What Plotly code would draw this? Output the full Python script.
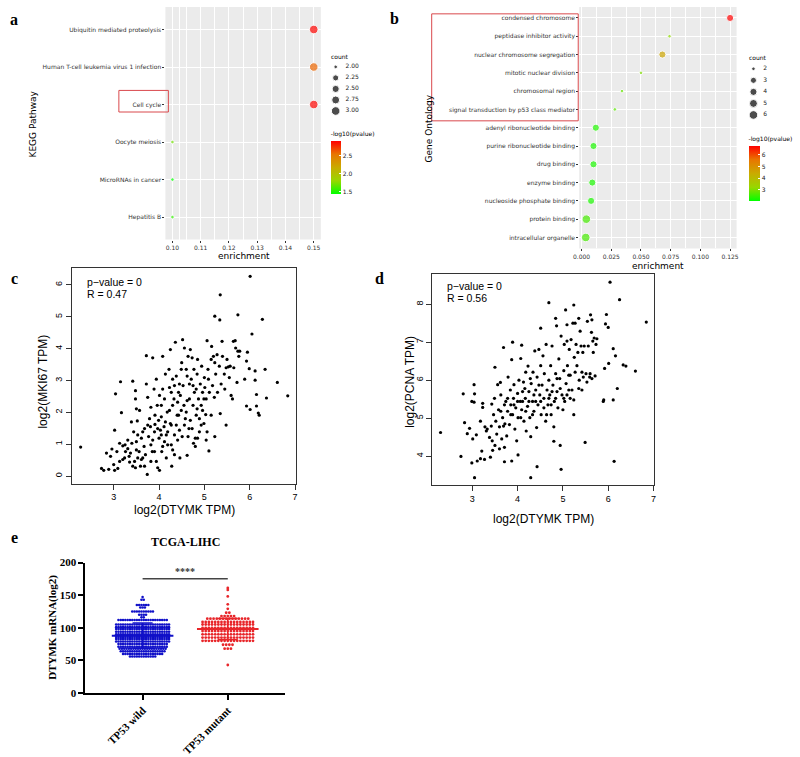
import numpy as np
import plotly.graph_objects as go

W, H = 800, 757

# ---------------- data ----------------
kegg_terms = ["Ubiquitin mediated proteolysis", "Human T-cell leukemia virus 1 infection",
              "Cell cycle", "Oocyte meiosis", "MicroRNAs in cancer", "Hepatitis B"]
kegg_enrichment = [0.15, 0.15, 0.15, 0.10, 0.10, 0.10]
kegg_count = [3, 3, 3, 2, 2, 2]
kegg_logp = [2.88, 2.58, 2.88, 1.70, 1.43, 1.55]
kegg_count_breaks = [2.00, 2.25, 2.50, 2.75, 3.00]
kegg_logp_ticks = [1.5, 2.0, 2.5]

go_terms = ["condensed chromosome", "peptidase inhibitor activity", "nuclear chromosome segregation",
            "mitotic nuclear division", "chromosomal region", "signal transduction by p53 class mediator",
            "adenyl ribonucleotide binding", "purine ribonucleotide binding", "drug binding",
            "enzyme binding", "nucleoside phosphate binding", "protein binding", "intracellular organelle"]
go_enrichment = [0.125, 0.074, 0.068, 0.050, 0.034, 0.028, 0.012, 0.010, 0.010, 0.009, 0.008, 0.004, 0.0035]
go_count = [4, 2, 4, 2, 2, 2, 4, 4, 4, 4, 4, 6, 6]
go_logp = [6.75, 3.1, 4.5, 3.0, 2.8, 2.7, 2.25, 2.2, 2.2, 2.2, 2.2, 2.55, 2.55]
go_count_breaks = [2, 3, 4, 5, 6]
go_logp_ticks = [3, 4, 5, 6]

# panel c: DTYMK vs MKI67 (log2 TPM)
c_x = [2.27, 6.01, 5.35, 5.23, 5.34, 5.74, 6.28, 6.05, 6.61, 6.84,
       6.37, 6.34, 6.12, 6.12, 6.15, 6.01, 5.93, 6.15, 6.19, 6.21,
       5.89, 5.93, 5.95, 5.99, 5.48, 5.10, 5.23, 5.04, 5.06, 5.15,
       5.03, 2.73, 2.78, 2.84, 2.89, 2.93, 2.96, 3.00, 3.02, 3.02,
       3.04, 3.09, 3.13, 3.07, 3.17, 3.15, 3.20, 3.24, 3.26, 3.31,
       3.34, 3.37, 3.40, 3.42, 3.46, 3.42, 3.48, 3.48, 3.50, 3.52,
       3.53, 3.50, 3.56, 3.53, 3.59, 3.61, 3.57, 3.64, 3.67, 3.70,
       3.72, 3.72, 3.74, 3.75, 3.77, 3.79, 3.82, 3.86, 3.85, 3.89,
       3.90, 3.91, 3.94, 3.94, 3.96, 3.97, 4.00, 4.01, 4.03, 4.05,
       4.06, 4.08, 4.08, 4.11, 4.12, 4.14, 4.16, 4.18, 4.19, 4.22,
       4.23, 4.25, 4.25, 4.27, 4.28, 4.30, 4.33, 4.34, 4.36, 4.38,
       4.40, 4.41, 4.43, 4.45, 4.46, 4.49, 4.50, 4.52, 4.53, 4.56,
       4.58, 4.60, 4.62, 4.62, 4.64, 4.66, 4.69, 4.71, 4.73, 4.75,
       4.76, 4.78, 4.80, 4.82, 4.84, 4.85, 4.87, 4.89, 4.91, 4.93,
       4.94, 4.96, 4.99, 5.00, 5.01, 5.04, 5.06, 5.08, 5.09, 5.11,
       5.15, 5.16, 5.18, 5.20, 5.22, 5.23, 5.25, 5.28, 5.29, 5.33,
       5.35, 5.37, 5.39, 5.40, 5.44, 5.45, 5.48, 5.50, 5.53, 5.55,
       5.57, 5.59, 5.62, 5.64, 5.65, 5.68, 5.69, 5.72, 5.74, 5.76,
       5.78, 3.61, 3.68, 3.81, 3.86, 3.91, 3.97, 3.99, 4.05, 4.08,
       4.14, 4.16, 4.19, 4.23, 4.27, 4.30, 4.34, 4.38, 4.41, 4.43,
       4.47, 4.51, 4.55, 4.56, 4.60, 4.64, 4.67, 4.69, 4.73, 4.75,
       4.80, 4.84, 4.85, 4.89, 4.93, 4.96, 3.75, 3.82, 4.01, 4.05,
       4.12, 4.27, 4.30, 4.34, 4.45, 4.49, 4.62, 4.67, 4.77, 4.82,
       4.99, 3.39, 3.44, 3.31, 3.25, 3.35, 3.48, 3.64, 3.68, 3.82,
       3.90, 3.50, 3.20, 3.13]
c_y = [0.91, 6.27, 5.69, 5.02, 4.90, 5.06, 4.92, 4.46, 2.94, 2.52,
       2.45, 3.35, 3.30, 3.01, 2.56, 2.09, 2.20, 2.20, 1.98, 1.91,
       3.04, 3.61, 3.89, 3.37, 1.60, 0.79, 1.24, 1.13, 1.39, 1.91,
       1.93, 0.24, 0.18, 0.72, 0.21, 0.62, 0.85, 0.36, 0.18, 1.44,
       2.58, 0.24, 0.46, 0.77, 1.99, 2.96, 0.95, 0.57, 0.77, 0.86,
       0.62, 0.72, 1.03, 0.31, 0.46, 2.98, 2.68, 2.42, 2.11, 1.73,
       1.29, 1.08, 0.77, 0.57, 0.31, 0.52, 2.06, 1.39, 0.93, 0.67,
       3.78, 2.89, 0.05, 1.60, 1.24, 1.80, 0.98, 3.71, 0.77, 2.73,
       1.39, 1.62, 3.04, 0.46, 2.22, 0.26, 1.19, 0.18, 1.44, 1.86,
       0.77, 3.76, 2.73, 1.55, 1.08, 3.20, 0.57, 2.01, 1.39, 3.35,
       2.78, 1.65, 3.97, 0.98, 0.31, 2.22, 2.42, 0.67, 4.20, 3.14,
       1.91, 1.13, 2.63, 1.44, 0.57, 2.06, 3.56, 4.28, 2.84, 4.02,
       1.80, 3.35, 2.37, 0.65, 3.76, 1.49, 3.97, 3.04, 3.71, 2.22,
       1.03, 2.63, 0.93, 1.91, 3.20, 3.66, 2.42, 1.39, 2.89, 2.22,
       3.45, 2.63, 1.65, 3.09, 2.78, 2.42, 4.25, 3.35, 3.04, 2.63,
       3.66, 4.07, 2.84, 3.76, 2.47, 3.56, 3.20, 3.81, 2.63, 3.45,
       1.96, 2.89, 4.23, 3.76, 3.20, 2.73, 3.40, 3.66, 3.43, 3.09,
       3.45, 2.53, 2.42, 4.23, 3.40, 4.25, 4.02, 2.94, 3.92, 3.76,
       3.92, 1.19, 1.49, 1.55, 1.13, 1.91, 1.49, 1.75, 1.29, 0.93,
       1.70, 1.29, 0.98, 2.06, 1.60, 0.82, 1.29, 1.60, 2.32, 1.91,
       2.53, 1.24, 2.22, 1.60, 2.01, 1.24, 2.42, 1.75, 1.49, 2.84,
       1.19, 2.11, 1.19, 1.80, 1.60, 2.06, 2.47, 2.16, 2.53, 2.22,
       2.42, 2.63, 3.04, 2.84, 2.89, 3.35, 3.14, 2.89, 3.35, 2.73,
       2.42, 1.70, 1.39, 1.13, 0.98, 0.44, 0.26, 0.57, 0.31, 0.46,
       0.77, 0.82, 0.52, 1.03]

# panel d: DTYMK vs PCNA (log2 TPM)
d_x = [2.30, 2.80, 2.75, 2.83, 2.89, 2.94, 2.99, 2.99, 3.04, 3.01,
       3.05, 3.04, 3.05, 3.09, 3.11, 3.18, 3.18, 3.21, 3.23, 3.23,
       3.27, 3.28, 3.31, 3.33, 3.38, 3.40, 3.42, 3.43, 3.44, 3.45,
       3.47, 3.49, 3.50, 3.50, 3.52, 3.54, 3.56, 3.58, 3.60, 3.60,
       3.62, 3.63, 3.65, 3.67, 3.69, 3.69, 3.71, 3.71, 3.72, 3.74,
       3.76, 3.78, 3.79, 3.82, 3.84, 3.85, 3.87, 3.87, 3.89, 3.89,
       3.91, 3.92, 3.94, 3.96, 3.98, 4.00, 4.01, 4.01, 4.03, 4.06,
       4.07, 4.09, 4.09, 4.11, 4.13, 4.14, 4.17, 4.18, 4.19, 4.22,
       4.23, 4.25, 4.27, 4.29, 4.29, 4.30, 4.33, 4.34, 4.36, 4.38,
       4.40, 4.42, 4.43, 4.43, 4.45, 4.47, 4.49, 4.51, 4.51, 4.52,
       4.54, 4.56, 4.58, 4.59, 4.62, 4.63, 4.65, 4.67, 4.69, 4.69,
       4.71, 4.73, 4.74, 4.76, 4.78, 4.80, 4.80, 4.81, 4.84, 4.84,
       4.86, 4.87, 4.89, 4.91, 4.93, 4.94, 4.96, 4.96, 4.98, 5.00,
       5.02, 5.03, 5.04, 5.06, 5.07, 5.09, 5.09, 5.10, 5.13, 5.14,
       5.16, 5.18, 5.20, 5.22, 5.24, 5.24, 5.24, 5.25, 5.27, 5.29,
       5.31, 5.33, 5.35, 5.36, 5.38, 5.40, 5.42, 5.44, 5.45, 5.47,
       5.49, 5.51, 5.54, 5.56, 5.59, 5.60, 5.61, 5.63, 5.64, 5.66,
       5.67, 5.69, 5.71, 5.73, 5.75, 5.89, 5.90, 5.94, 5.92, 5.96,
       6.00, 6.01, 6.04, 6.11, 6.13, 6.11, 6.16, 6.20, 6.25, 6.33,
       6.39, 6.60, 6.84, 3.63, 3.85, 4.00, 4.07, 4.18, 4.25, 4.33,
       4.40, 4.47, 4.58, 4.69, 4.76, 4.87, 4.94, 5.09, 5.13, 5.27,
       5.35, 5.42, 5.53, 5.64, 3.92, 3.78, 3.71, 4.11, 4.16, 4.28,
       4.36, 4.51, 4.64, 4.74, 4.84, 5.02, 5.16]
d_y = [4.62, 5.64, 3.99, 4.88, 4.59, 4.73, 3.82, 5.44, 5.88, 4.45,
       5.64, 5.42, 3.43, 4.56, 3.87, 4.92, 3.93, 4.13, 5.39, 5.28,
       3.91, 4.77, 4.66, 4.71, 4.49, 3.97, 4.79, 5.37, 4.40, 4.15,
       5.09, 5.52, 6.34, 4.28, 4.92, 4.58, 5.88, 5.22, 4.19, 4.77,
       5.94, 5.61, 4.45, 5.01, 6.86, 4.79, 4.23, 3.85, 4.85, 5.44,
       4.53, 5.18, 6.08, 4.83, 5.74, 5.35, 6.54, 3.87, 7.00, 5.09,
       5.52, 5.88, 4.71, 5.27, 4.40, 5.65, 4.03, 5.01, 6.00, 5.44,
       6.57, 6.92, 5.22, 5.70, 5.95, 4.92, 5.52, 6.21, 4.66, 5.31,
       6.37, 5.70, 5.01, 4.51, 3.43, 5.91, 5.44, 6.21, 5.18, 6.77,
       5.74, 4.75, 3.72, 6.08, 5.35, 6.81, 5.61, 6.38, 7.37, 5.09,
       5.87, 6.64, 5.52, 6.17, 4.92, 6.94, 5.74, 5.35, 8.04, 6.00,
       5.61, 6.38, 5.09, 6.90, 5.87, 4.77, 4.39, 5.44, 7.63, 6.17,
       7.43, 5.70, 5.27, 6.56, 6.04, 4.28, 3.65, 7.16, 5.61, 5.22,
       6.25, 6.94, 5.44, 7.85, 5.91, 7.46, 7.03, 6.38, 5.74, 6.81,
       6.13, 7.07, 5.74, 7.50, 7.98, 5.09, 5.48, 6.60, 7.50, 6.94,
       6.38, 6.73, 7.63, 6.00, 7.29, 6.90, 5.74, 6.73, 6.08, 6.90,
       4.36, 6.17, 7.55, 6.90, 6.08, 6.17, 7.72, 7.26, 7.59, 7.03,
       6.73, 7.11, 6.11, 6.94, 7.09, 5.44, 5.48, 7.48, 6.31, 7.73,
       7.39, 6.44, 8.58, 6.83, 3.86, 5.48, 6.64, 5.78, 8.12, 6.40,
       6.37, 6.24, 7.53, 5.18, 5.09, 5.44, 5.01, 5.18, 5.44, 5.09,
       5.44, 5.87, 5.27, 5.52, 5.70, 6.04, 5.78, 5.61, 6.13, 6.21,
       5.78, 6.21, 5.95, 6.04, 5.35, 5.52, 5.35, 5.44, 5.78, 6.04,
       5.61, 5.44, 5.09, 5.35, 5.52, 5.52, 5.52]

# panel e: DTYMK mRNA(log2), beeswarm rows (value level, number of samples)
e_groups = ["TP53 wild", "TP53 mutant"]
wild_levels = [147, 143, 135, 131, 125, 120, 116, 112, 105, 101, 98, 94, 90, 86, 83, 79, 75, 71, 68, 64, 60, 56]
wild_counts = [1, 2, 6, 3, 10, 4, 2, 22, 24, 24, 24, 24, 24, 24, 24, 24, 22, 22, 21, 20, 18, 12]
mut_levels = [161, 158, 148, 136, 129, 123, 118, 114, 109, 105, 100, 95, 90, 85, 80, 74, 68, 43]
mut_counts = [1, 1, 1, 1, 1, 2, 5, 14, 17, 17, 17, 17, 17, 17, 17, 4, 3, 1]
e_yticks = [0, 50, 100, 150, 200]

# ---------------- helpers ----------------
def dom_x(l, r):
    return [l / W, r / W]

def dom_y(t, b):
    return [1 - b / H, 1 - t / H]

def dot_size(counts, lo, hi):
    t = (np.asarray(counts, float) - lo) / (hi - lo)
    return 3.6 + 5.0 * np.sqrt(t)

def swarm(levels, counts, center, step):
    xs, ys = [], []
    for v, n in zip(levels, counts):
        offs = (np.arange(n) - (n - 1) / 2) * step
        xs.extend(center + offs)
        ys.extend([v] * n)
    return xs, ys

GG = "DejaVu Sans"
RF = "Liberation Sans"
SERIF = "Liberation Serif"
cscale = [[0, "#00FF00"], [0.25, "#98D700"], [0.5, "#C9AB00"], [0.75, "#E87600"], [1, "#FF0000"]]

fig = go.Figure()

# ---- panel a ----
fig.add_trace(go.Scatter(x=kegg_enrichment, y=kegg_terms, mode="markers", xaxis="x", yaxis="y",
                         marker=dict(size=dot_size(kegg_count, 2, 3), color=kegg_logp, coloraxis="coloraxis")))
fig.add_trace(go.Scatter(x=[0.5] * len(kegg_count_breaks), y=[f"{b:.2f}" for b in kegg_count_breaks],
                         mode="markers", xaxis="x6", yaxis="y6",
                         marker=dict(size=dot_size(kegg_count_breaks, 2, 3), color="black")))
fig.add_trace(go.Scatter(x=[1.0] * len(kegg_count_breaks), y=[f"{b:.2f}" for b in kegg_count_breaks],
                         mode="text", text=[f"{b:.2f}" for b in kegg_count_breaks], textposition="middle right",
                         textfont=dict(size=6, family=GG, color="#222"), xaxis="x6", yaxis="y6", cliponaxis=False))

# ---- panel b ----
fig.add_trace(go.Scatter(x=go_enrichment, y=go_terms, mode="markers", xaxis="x2", yaxis="y2",
                         marker=dict(size=dot_size(go_count, 2, 6), color=go_logp, coloraxis="coloraxis2")))
fig.add_trace(go.Scatter(x=[0.5] * len(go_count_breaks), y=[str(b) for b in go_count_breaks],
                         mode="markers", xaxis="x7", yaxis="y7",
                         marker=dict(size=dot_size(go_count_breaks, 2, 6), color="black")))
fig.add_trace(go.Scatter(x=[1.0] * len(go_count_breaks), y=[str(b) for b in go_count_breaks],
                         mode="text", text=[str(b) for b in go_count_breaks], textposition="middle right",
                         textfont=dict(size=6, family=GG, color="#222"), xaxis="x7", yaxis="y7", cliponaxis=False))

# ---- panel c, d ----
fig.add_trace(go.Scatter(x=c_x, y=c_y, mode="markers", xaxis="x3", yaxis="y3",
                         marker=dict(size=3.2, color="black")))
fig.add_trace(go.Scatter(x=d_x, y=d_y, mode="markers", xaxis="x4", yaxis="y4",
                         marker=dict(size=3.2, color="black")))

# ---- panel e ----
BLUE, RED = "#1010C8", "#E8262A"
wx, wy = swarm(wild_levels, wild_counts, 0, 0.027)
mx, my = swarm(mut_levels, mut_counts, 1, 0.037)
fig.add_trace(go.Scatter(x=wx, y=wy, mode="markers", xaxis="x5", yaxis="y5",
                         marker=dict(size=2.6, color=BLUE)))
fig.add_trace(go.Scatter(x=mx, y=my, mode="markers", xaxis="x5", yaxis="y5",
                         marker=dict(size=2.8, color=RED)))
wild_vals = np.repeat(wild_levels, wild_counts)
mut_vals = np.repeat(mut_levels, mut_counts)
for ci, vals, col in [(0, wild_vals, BLUE), (1, mut_vals, RED)]:
    fig.add_trace(go.Scatter(x=[ci], y=[vals.mean()], mode="markers", xaxis="x5", yaxis="y5",
                             marker=dict(symbol="line-ew", size=44, line=dict(width=2, color=col)),
                             error_y=dict(type="data", array=[vals.std()], color=col, thickness=1.5, width=10)))
sig_y = max(wild_vals.max(), mut_vals.max()) + 14

# ---------------- layout ----------------
gg_tick = dict(family=GG, size=6, color="#333")
r_tick = dict(family=RF, size=9, color="black")
e_tick = dict(family=SERIF, size=11, color="black")

layout = dict(
    width=W, height=H, margin=dict(l=0, r=0, t=0, b=0),
    paper_bgcolor="white", plot_bgcolor="white", showlegend=False,
    xaxis=dict(domain=dom_x(161, 318), anchor="y", range=[0.0975, 0.1525],
               tickvals=[0.10, 0.11, 0.12, 0.13, 0.14, 0.15], tickformat=".2f",
               showgrid=True, gridcolor="white", gridwidth=1, zeroline=False,
               ticks="outside", ticklen=2, tickcolor="#333", tickfont=gg_tick,
               minor=dict(tickvals=[0.1025, 0.105, 0.115, 0.125, 0.135, 0.145, 0.1525],
                          showgrid=True, gridcolor="white", gridwidth=0.5, ticks="")),
    yaxis=dict(domain=dom_y(1, 238), anchor="x", type="category", categoryarray=kegg_terms,
               range=[len(kegg_terms) - 0.4, -0.6],
               showgrid=True, gridcolor="white", gridwidth=1, zeroline=False,
               ticks="outside", ticklen=2, tickcolor="#333", tickfont=gg_tick),
    xaxis2=dict(domain=dom_x(579, 738), anchor="y2", range=[-0.002, 0.1305],
                tickvals=[0, 0.025, 0.05, 0.075, 0.1, 0.125], tickformat=".3f",
                showgrid=True, gridcolor="white", gridwidth=1, zeroline=False,
                ticks="outside", ticklen=2, tickcolor="#333", tickfont=gg_tick,
                minor=dict(tickvals=[0.0125, 0.0375, 0.0625, 0.0875, 0.1125],
                           showgrid=True, gridcolor="white", gridwidth=0.5, ticks="")),
    yaxis2=dict(domain=dom_y(1, 247), anchor="x2", type="category", categoryarray=go_terms,
                range=[len(go_terms) - 0.4, -0.6],
                showgrid=True, gridcolor="white", gridwidth=1, zeroline=False,
                ticks="outside", ticklen=2, tickcolor="#333", tickfont=gg_tick),
    xaxis3=dict(domain=dom_x(66.7, 293.3), anchor="y3", range=[2.08, 7.03], dtick=1,
                showgrid=False, zeroline=False, showline=True, mirror=True, linecolor="#333", linewidth=1,
                ticks="outside", ticklen=5, tickcolor="#333", tickfont=r_tick),
    yaxis3=dict(domain=dom_y(267.3, 486.7), anchor="x3", range=[-0.24, 6.52], dtick=1,
                showgrid=False, zeroline=False, showline=True, mirror=True, linecolor="#333", linewidth=1,
                ticks="outside", ticklen=5, tickcolor="#333", tickfont=r_tick, tickangle=-90),
    xaxis4=dict(domain=dom_x(430.7, 655), anchor="y4", range=[2.12, 7.02], dtick=1,
                showgrid=False, zeroline=False, showline=True, mirror=True, linecolor="#333", linewidth=1,
                ticks="outside", ticklen=5, tickcolor="#333", tickfont=r_tick),
    yaxis4=dict(domain=dom_y(273.3, 488.3), anchor="x4", range=[3.23, 8.79], dtick=1,
                showgrid=False, zeroline=False, showline=True, mirror=True, linecolor="#333", linewidth=1,
                ticks="outside", ticklen=5, tickcolor="#333", tickfont=r_tick, tickangle=-90),
    xaxis5=dict(domain=dom_x(80, 282), anchor="y5", range=[-0.674, 1.674],
                tickvals=[0, 1], ticktext=[f"<b>{g}</b>" for g in e_groups], tickangle=-45,
                showgrid=False, zeroline=False, showline=True, linecolor="black", linewidth=1.5,
                ticks="outside", ticklen=5, tickwidth=1.5, tickcolor="black", tickfont=e_tick),
    yaxis5=dict(domain=dom_y(567, 700), anchor="x5", range=[0, 200],
                tickvals=e_yticks, ticktext=[f"<b>{v}</b>" for v in e_yticks],
                showgrid=False, zeroline=False, showline=True, linecolor="black", linewidth=1.5,
                ticks="outside", ticklen=5, tickwidth=1.5, tickcolor="black", tickfont=e_tick),
    xaxis6=dict(domain=dom_x(323, 343), anchor="y6", range=[0, 1], visible=False),
    yaxis6=dict(domain=dom_y(56.4, 112.6), anchor="x6", type="category",
                categoryarray=[f"{b:.2f}" for b in kegg_count_breaks],
                range=[len(kegg_count_breaks) - 0.5, -0.5], visible=False),
    xaxis7=dict(domain=dom_x(745, 765), anchor="y7", range=[0, 1], visible=False),
    yaxis7=dict(domain=dom_y(58.1, 116.9), anchor="x7", type="category",
                categoryarray=[str(b) for b in go_count_breaks],
                range=[len(go_count_breaks) - 0.5, -0.5], visible=False),
    coloraxis=dict(cmin=1.43, cmax=2.89, colorscale=cscale,
                   colorbar=dict(x=328 / W, xanchor="left", y=1 - 192 / H, yanchor="bottom",
                                 len=66, lenmode="pixels", thickness=10, thicknessmode="pixels",
                                 xpad=0, ypad=0, outlinewidth=0, ticks="inside", ticklen=2,
                                 tickcolor="white", tickvals=kegg_logp_ticks,
                                 ticktext=[f"{v:.1f}" for v in kegg_logp_ticks],
                                 tickfont=dict(family=GG, size=6, color="#222"),
                                 title=dict(text="-log10(pvalue)", side="top",
                                            font=dict(family=GG, size=6, color="black")))),
    coloraxis2=dict(cmin=2.0, cmax=6.75, colorscale=cscale,
                    colorbar=dict(x=750 / W, xanchor="left", y=1 - 199 / H, yanchor="bottom",
                                  len=68, lenmode="pixels", thickness=11, thicknessmode="pixels",
                                  xpad=0, ypad=0, outlinewidth=0, ticks="inside", ticklen=2,
                                  tickcolor="white", tickvals=go_logp_ticks,
                                  ticktext=[str(v) for v in go_logp_ticks],
                                  tickfont=dict(family=GG, size=6, color="#222"),
                                  title=dict(text="-log10(pvalue)", side="top",
                                             font=dict(family=GG, size=6, color="black")))),
)
fig.update_layout(**layout)

# grey ggplot panels
for ax, yr in [("x", "y"), ("x2", "y2")]:
    fig.add_shape(type="rect", xref=f"{ax} domain", yref=f"{yr} domain", x0=0, x1=1, y0=0, y1=1,
                  fillcolor="#EBEBEB", line=dict(width=0), layer="below")

# red highlight rectangles
fig.add_shape(type="rect", xref="paper", yref="paper", x0=114 / W, x1=164 / W, y0=1 - 108 / H, y1=1 - 86 / H,
              line=dict(color="#D9484C", width=1))
fig.add_shape(type="rect", xref="paper", yref="paper", x0=430 / W, x1=578 / W, y0=1 - 117 / H, y1=1 - 8 / H,
              line=dict(color="#D9484C", width=1))

# significance bar
fig.add_shape(type="line", xref="x5", yref="y5", x0=0, x1=1, y0=sig_y, y1=sig_y,
              line=dict(color="#444", width=1.5))

def ann(text, x, y, size, family, color="black", angle=0, xanchor="center", yanchor="middle"):
    fig.add_annotation(text=text, x=x / W, y=1 - y / H, xref="paper", yref="paper", showarrow=False,
                       font=dict(size=size, family=family, color=color), textangle=angle,
                       xanchor=xanchor, yanchor=yanchor)

# panel labels
for lab, x, y in [("a", 8, 14), ("b", 392, 13), ("c", 9, 278), ("d", 377, 278), ("e", 9, 542)]:
    ann(f"<b>{lab}</b>", x, y, 16, SERIF)

# ggplot titles
ann("KEGG Pathway", 27, 120, 9, GG, angle=-90)
ann("enrichment", 240, 255, 9, GG)
ann("Gene Ontology", 427, 125, 9, GG, angle=-90)
ann("enrichment", 659, 265, 9, GG)
ann("count", 326, 51, 6, GG, xanchor="left")
ann("count", 748, 52, 6, GG, xanchor="left")

# R plot titles
ann("log2(MKI67 TPM)", 37, 383, 12, RF, angle=-90)
ann("log2(DTYMK TPM)", 180, 514, 12, RF)
ann("p\u2212value = 0", 80, 281, 10.5, RF, xanchor="left")
ann("R = 0.47", 80, 293, 10.5, RF, xanchor="left")
ann("log2(PCNA TPM)", 408, 383, 12, RF, angle=-90)
ann("log2(DTYMK TPM)", 543, 523, 12, RF)
ann("p\u2212value = 0", 443, 285, 10.5, RF, xanchor="left")
ann("R = 0.56", 443, 297, 10.5, RF, xanchor="left")

# panel e titles
ann("<b>TCGA-LIHC</b>", 181, 546, 12, SERIF)
ann("<b>DTYMK mRNA(log2)</b>", 47, 633, 11, SERIF, angle=-90)
fig.add_annotation(text="<b>****</b>", x=0.5, y=sig_y, xref="x5", yref="y5", showarrow=False,
                   yanchor="bottom", font=dict(size=10, family=SERIF, color="#333"))

fig.write_html("out.html", config={"displayModeBar": False},
               post_script="document.body.style.margin='0';")
